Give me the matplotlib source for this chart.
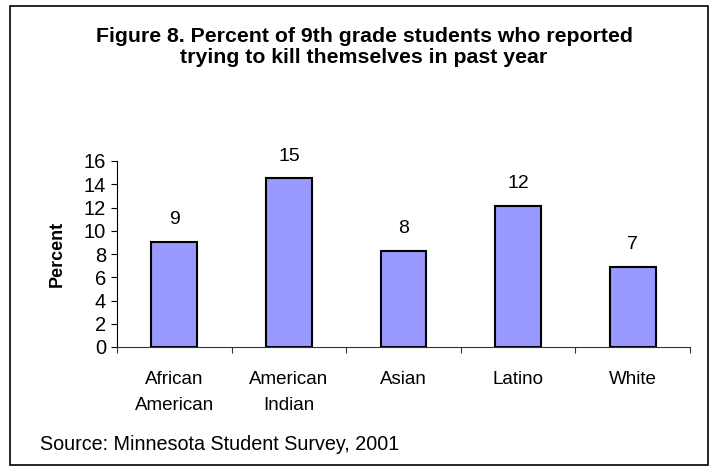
import matplotlib
matplotlib.use("Agg")
import matplotlib.pyplot as plt
from matplotlib.patches import Rectangle

categories = ["African\nAmerican", "American\nIndian", "Asian", "Latino", "White"]
values = [9.0, 14.5, 8.3, 12.1, 6.9]
labels = ["9", "15", "8", "12", "7"]
yticks = [0, 2, 4, 6, 8, 10, 12, 14, 16]

plt.rcParams['font.family'] = ['Liberation Sans', 'DejaVu Sans']

fig = plt.figure(figsize=(7.13, 4.66), dpi=100)
ax = fig.add_axes([117/713, 1-347/466, 573/713, 186/466])

x = list(range(len(categories)))
ax.bar(x, values, width=0.4, color='#9999FF', edgecolor='black', linewidth=1.5, zorder=3)

for xi, v, lab in zip(x, values, labels):
    ax.annotate(lab, (xi, v), xytext=(0, 10), textcoords='offset points',
                ha='center', va='bottom', fontsize=14)

ax.set_xlim(-0.5, len(categories) - 0.5)
ax.set_ylim(0, 16)
ax.set_yticks(yticks)
ax.tick_params(axis='y', labelsize=14.5, length=4, width=0.8, pad=4)

# category labels between boundary ticks
ax.set_xticks([i - 0.5 for i in range(len(categories) + 1)])
ax.set_xticklabels([])
ax.set_xticks(x, minor=True)
ax.set_xticklabels(categories, minor=True, fontsize=13.5, linespacing=1.7)
ax.tick_params(axis='x', which='major', length=4, width=0.8, color='#333333')
ax.tick_params(axis='x', which='minor', length=0, pad=17)

ax.spines['top'].set_visible(False)
ax.spines['right'].set_visible(False)
ax.spines['left'].set_linewidth(0.8)
ax.spines['bottom'].set_linewidth(0.8)
ax.spines['bottom'].set_color('#333333')

ax.set_ylabel("Percent", fontsize=13, fontweight='bold', labelpad=13)

fig.text(364/713, 1-47/466, "Figure 8. Percent of 9th grade students who reported\ntrying to kill themselves in past year",
         ha='center', va='center', fontsize=15.3, fontweight='bold', linespacing=1.15)

fig.text(40/713, 1-445/466, "Source: Minnesota Student Survey, 2001", ha='left', va='center', fontsize=14.2)

fig.patches.append(Rectangle((10/713, 1-465/466), 698/713, 459/466, transform=fig.transFigure,
                             fill=False, edgecolor='black', linewidth=1.2))

fig.savefig("out.png", dpi=100)
